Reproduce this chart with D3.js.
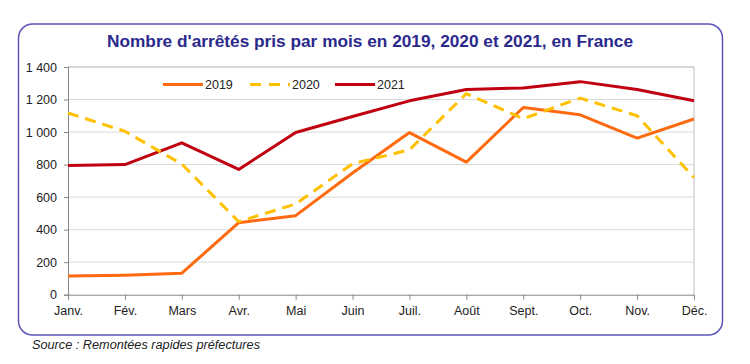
<!DOCTYPE html>
<html><head><meta charset="utf-8">
<script src="https://cdn.jsdelivr.net/npm/d3@7/dist/d3.min.js"></script>
<style>body{margin:0;background:#fff;}svg{display:block;font-family:"Liberation Sans",Arial,sans-serif;}</style>
</head><body><svg id="c" width="750" height="364"></svg>
<script>
const months = ["Janv.","Fév.","Mars","Avr.","Mai","Juin","Juil.","Août","Sept.","Oct.","Nov.","Déc."];
const v2019 = [115,120,132,443,486,748,997,815,1151,1106,963,1080];
const v2020 = [1117,1005,803,449,558,805,891,1236,1082,1209,1100,720];
const v2021 = [794,800,934,770,997,1096,1192,1262,1271,1310,1262,1192];
const yTicks = [0,200,400,600,800,1000,1200,1400];
const seriesNames = ["2019","2020","2021"];
const colors = ["#FF6A10","#FFC000","#C00010"];

const svg = d3.select("#c");
const L=68,R=694,T=67,B=294.7;
const x = d3.scalePoint().domain(months).range([L,R]);
const y = d3.scaleLinear().domain([0,1400]).range([B,T]);

svg.append("rect").attr("x",18.5).attr("y",24).attr("width",704).attr("height",311)
  .attr("rx",14).attr("fill","#fff").attr("stroke","#5B55B8").attr("stroke-width",1.5);

svg.append("text").attr("x",370).attr("y",47).attr("text-anchor","middle")
  .attr("font-size",16).attr("font-weight","bold").attr("fill","#2B2A8C")
  .attr("textLength",526).attr("lengthAdjust","spacingAndGlyphs")
  .text("Nombre d'arrêtés pris par mois en 2019, 2020 et 2021, en France");

svg.append("g").selectAll("line").data(yTicks.filter(d=>d>0)).join("line")
  .attr("x1",L).attr("x2",R).attr("y1",d=>y(d)).attr("y2",d=>y(d))
  .attr("stroke","#D9D9D9").attr("stroke-width",1);
svg.append("line").attr("x1",R).attr("x2",R).attr("y1",T).attr("y2",B).attr("stroke","#BFBFBF");
svg.append("line").attr("x1",L).attr("x2",R).attr("y1",T).attr("y2",T).attr("stroke","#BFBFBF");

const yAxis = svg.append("g").attr("transform",`translate(${L},0)`)
  .call(d3.axisLeft(y).tickValues(yTicks).tickSize(4).tickPadding(7)
    .tickFormat(d=>d3.format(",")(d).replace(",", " ")));
const xAxis = svg.append("g").attr("transform",`translate(0,${B})`)
  .call(d3.axisBottom(x).tickSize(5).tickPadding(6));
[yAxis,xAxis].forEach(g=>{
  g.select(".domain").attr("stroke","#868686");
  g.selectAll(".tick line").attr("stroke","#868686");
  g.selectAll("text").attr("font-size",12.5).attr("fill","#222").attr("font-family","Liberation Sans, Arial, sans-serif");
});

const line = d3.line().x((d,i)=>x(months[i])).y(d=>y(d));
const data = [v2019,v2020,v2021];
const dashes = [null,"11,7",null];
[2,0,1].forEach(k=>{
  svg.append("path").datum(data[k]).attr("d",line).attr("fill","none")
    .attr("stroke",colors[k]).attr("stroke-width",3)
    .attr("stroke-dasharray",dashes[k]).attr("stroke-linejoin","round");
});

const lx=[163,250,335];
seriesNames.forEach((s,k)=>{
  svg.append("line").attr("x1",lx[k]).attr("x2",lx[k]+40).attr("y1",84.5).attr("y2",84.5)
    .attr("stroke",colors[k]).attr("stroke-width",3).attr("stroke-dasharray",dashes[k]?"11,8":null);
  svg.append("text").attr("x",lx[k]+42).attr("y",89).attr("font-size",12.5).attr("fill","#222").text(s);
});

svg.append("text").attr("x",32).attr("y",349).attr("font-size",12.5).attr("font-style","italic")
  .attr("fill","#222").attr("textLength",228).attr("lengthAdjust","spacingAndGlyphs")
  .text("Source : Remontées rapides préfectures");
</script></body></html>
